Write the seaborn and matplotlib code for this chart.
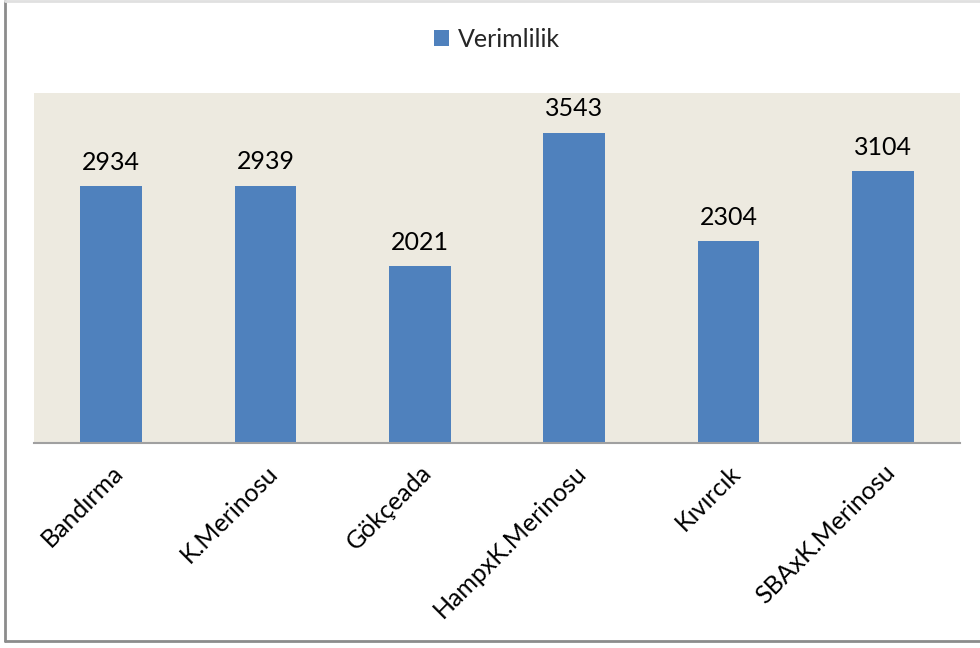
import matplotlib
matplotlib.use("Agg")
import matplotlib.pyplot as plt
from matplotlib.lines import Line2D
import seaborn as sns
import pandas as pd

categories = ["Bandırma", "K.Merinosu", "Gökçeada", "HampxK.Merinosu", "Kıvırcık", "SBAxK.Merinosu"]
values = [2934, 2939, 2021, 3543, 2304, 3104]
series_name = "Verimlilik"

df = pd.DataFrame({"Irk": categories, series_name: values})

sns.set_theme(style="white")
plt.rcParams["font.family"] = ["Lato", "DejaVu Sans"]

fig = plt.figure(figsize=(9.8, 6.48), dpi=100)
ax = fig.add_axes([34 / 980, 1 - 442.7 / 648, (960 - 34) / 980, (442.7 - 93) / 648])
ax.set_facecolor("#EDEAE0")

sns.barplot(data=df, x="Irk", y=series_name, color="#4F81BD", width=0.4,
            saturation=1, ax=ax, label=series_name, linewidth=0)

ax.set_ylim(0, 4000)
ax.set_xlim(-0.5, len(categories) - 0.5)
ax.set_yticks([])
ax.set_xlabel("")
ax.set_ylabel("")
for s in ["top", "left", "right"]:
    ax.spines[s].set_visible(False)
ax.spines["bottom"].set_color("#A0A0A0")
ax.spines["bottom"].set_linewidth(1.5)
ax.tick_params(axis="x", length=0, pad=13)
plt.setp(ax.get_xticklabels(), rotation=45, ha="right", rotation_mode="anchor",
         fontsize=18, color="black")

for container in ax.containers:
    ax.bar_label(container, labels=[str(v) for v in values], padding=9,
                 fontsize=18, color="black")

leg = ax.legend(loc="upper center", bbox_to_anchor=(0.5, 1.25), frameon=False,
                fontsize=18, handlelength=0.6, handleheight=0.6, handletextpad=0.35)

# outer chart frame
fig.add_artist(Line2D([5 / 980, 5 / 980], [1 - 1 / 648, 1 - 641 / 648],
                      transform=fig.transFigure, color="#8C8C8C", lw=2))
fig.add_artist(Line2D([5 / 980, 1], [1 - 641 / 648, 1 - 641 / 648],
                      transform=fig.transFigure, color="#8C8C8C", lw=2))
fig.add_artist(Line2D([5 / 980, 1], [1 - 1 / 648, 1 - 1 / 648],
                      transform=fig.transFigure, color="#E0E0E0", lw=2))

fig.savefig("out.png", dpi=100, facecolor="white")
